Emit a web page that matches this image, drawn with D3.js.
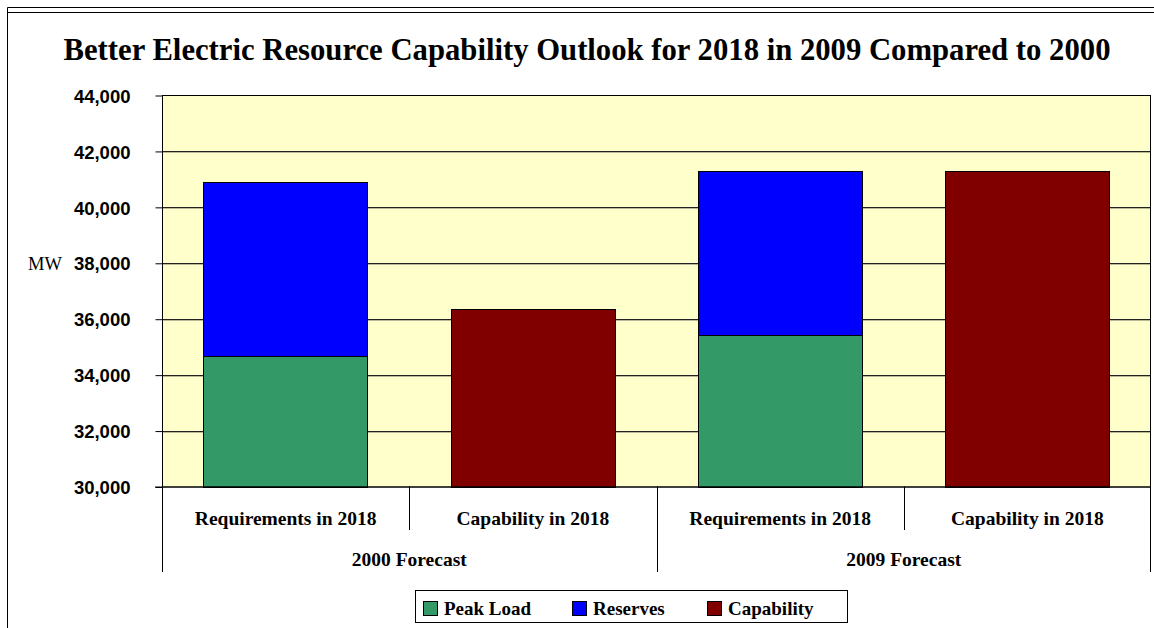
<!DOCTYPE html>
<html>
<head>
<meta charset="utf-8">
<script src="https://cdn.jsdelivr.net/npm/d3@7"></script>
<style>
  body { margin: 0; background: #fff; }
  svg { display: block; }
</style>
</head>
<body>
<div id="chart"></div>
<script>
// data
const categorias = ['Requirements in 2018', 'Capability in 2018', 'Requirements in 2018', 'Capability in 2018'];
const grupos = ['2000 Forecast', '2009 Forecast'];
const grupoDeCategoria = [0, 0, 1, 1];
const series = ['Peak Load', 'Reserves', 'Capability'];
const peakLoad = [34660, 0, 35430, 0];
const reserves = [6240, 0, 5870, 0];
const capability = [0, 36360, 0, 41300];
const ticksY = [30000, 32000, 34000, 36000, 38000, 40000, 42000, 44000];
const colores = ['#339966', '#0000ff', '#800000'];

const w = 1154, h = 628;
const margin = { left: 162, right: 3, top: 95, bottom: 141.5 };
const serif = '"Palatino Linotype", "Book Antiqua", Palatino, "Liberation Serif", serif';

const svg = d3.select('#chart').append('svg')
    .attr('width', w)
    .attr('height', h);

// marco exterior
svg.append('line').attr('x1', 7.5).attr('x2', w).attr('y1', 7.5).attr('y2', 7.5).attr('stroke', '#000');
svg.append('line').attr('x1', 7.5).attr('x2', w).attr('y1', 12.5).attr('y2', 12.5).attr('stroke', '#000');
svg.append('line').attr('x1', 7.5).attr('x2', 7.5).attr('y1', 7.5).attr('y2', h).attr('stroke', '#000');

// titulo
svg.append('text')
    .attr('x', 587)
    .attr('y', 60)
    .attr('text-anchor', 'middle')
    .style('font-family', serif)
    .style('font-weight', 'bold')
    .style('font-size', '30.7px')
    .text('Better Electric Resource Capability Outlook for 2018 in 2009 Compared to 2000');

// escalas
const x0 = margin.left, x1 = w - margin.right;
const yTop = margin.top, yBot = h - margin.bottom;

const xScale = d3.scaleBand()
    .domain(d3.range(categorias.length))
    .range([x0, x1])
    .paddingInner(0.335)
    .paddingOuter(0.1675);

const yScale = d3.scaleLinear()
    .domain([30000, 44000])
    .range([yBot, yTop])
    .clamp(true);

// fondo del area
svg.append('rect')
    .attr('x', x0).attr('y', yTop)
    .attr('width', x1 - x0).attr('height', yBot - yTop)
    .attr('fill', '#ffffcc');

// lineas de division
svg.append('g')
    .selectAll('line')
    .data(ticksY.slice(1, -1))
    .enter().append('line')
    .attr('x1', x0).attr('x2', x1)
    .attr('y1', (d) => Math.round(yScale(d)) + 1.5)
    .attr('y2', (d) => Math.round(yScale(d)) + 1.5)
    .attr('stroke', '#b8b89a');
svg.append('g')
    .selectAll('line')
    .data(ticksY.slice(1))
    .enter().append('line')
    .attr('x1', x0).attr('x2', x1)
    .attr('y1', (d) => Math.round(yScale(d)) + 0.5)
    .attr('y2', (d) => Math.round(yScale(d)) + 0.5)
    .attr('stroke', '#222');

// barras apiladas
const filas = categorias.map((c, i) => ({ i: i, valores: [peakLoad[i], reserves[i], capability[i]] }));
const stack = d3.stack().keys([0, 1, 2]).value((d, k) => d.valores[k]);
const apilado = stack(filas);

svg.append('g')
    .selectAll('g')
    .data(apilado)
    .enter().append('g')
    .attr('fill', (d) => colores[d.key])
    .selectAll('rect')
    .data((d) => d.filter((p) => p[1] > p[0]))
    .enter().append('rect')
    .attr('x', (d) => Math.round(xScale(d.data.i)) + 0.5)
    .attr('width', Math.round(xScale.bandwidth()))
    .attr('y', (d) => Math.round(yScale(d[1])) + 0.5)
    .attr('height', (d) => Math.round(yScale(d[0])) - Math.round(yScale(d[1])))
    .attr('stroke', '#000')
    .attr('stroke-width', 1);

// borde del area
svg.append('rect')
    .attr('x', x0 + 0.5).attr('y', yTop + 0.5)
    .attr('width', x1 - x0 - 1).attr('height', yBot - yTop)
    .attr('fill', 'none')
    .attr('stroke', '#000');

// eje Y
const yAxis = d3.axisLeft(yScale)
    .tickValues(ticksY)
    .tickSize(7)
    .tickPadding(25)
    .tickFormat(d3.format(','));

const gy = svg.append('g')
    .attr('transform', 'translate(' + (x0 + 0.5) + ',0.5)')
    .call(yAxis);
gy.select('.domain').remove();
gy.selectAll('line').attr('stroke', '#000');
gy.selectAll('text')
    .attr('fill', '#000')
    .attr('dy', '0.36em')
    .style('font-family', '"Liberation Sans", Arial, sans-serif')
    .style('font-weight', 'bold')
    .style('font-size', '18.5px');

svg.append('text')
    .attr('x', 28)
    .attr('y', 270)
    .style('font-family', '"Liberation Serif", "Times New Roman", serif')
    .style('font-size', '18.5px')
    .text('MW');

// eje X de dos niveles
const eje = svg.append('g');
eje.append('line').attr('x1', 155).attr('x2', x1).attr('y1', yBot + 0.5).attr('y2', yBot + 0.5).attr('stroke', '#000');

const bordes = d3.range(categorias.length + 1).map((i) => x0 + i * xScale.step());
eje.selectAll('line.sep')
    .data(bordes)
    .enter().append('line')
    .attr('x1', (d) => Math.round(d) + 0.5 - (d >= x1 - 1 ? 1 : 0))
    .attr('x2', (d) => Math.round(d) + 0.5 - (d >= x1 - 1 ? 1 : 0))
    .attr('y1', yBot)
    .attr('y2', (d, i) => (i % 2 === 0 ? 572 : 530))
    .attr('stroke', '#000');

eje.selectAll('text.cat')
    .data(categorias)
    .enter().append('text')
    .attr('x', (d, i) => x0 + (i + 0.5) * xScale.step())
    .attr('y', 525)
    .attr('text-anchor', 'middle')
    .style('font-family', serif)
    .style('font-weight', 'bold')
    .style('font-size', '19.5px')
    .text((d) => d);

eje.selectAll('text.grupo')
    .data(grupos)
    .enter().append('text')
    .attr('x', (d, g) => {
        const idx = d3.range(categorias.length).filter((i) => grupoDeCategoria[i] === g);
        return x0 + (d3.mean(idx) + 0.5) * xScale.step();
    })
    .attr('y', 566)
    .attr('text-anchor', 'middle')
    .style('font-family', serif)
    .style('font-weight', 'bold')
    .style('font-size', '19.5px')
    .text((d) => d);

// leyenda
const ley = svg.append('g');
ley.append('rect')
    .attr('x', 415.5).attr('y', 590.5)
    .attr('width', 432).attr('height', 32)
    .attr('fill', '#fff')
    .attr('stroke', '#000');

const posLeyenda = [423, 572, 707];
const items = ley.selectAll('g.item')
    .data(series)
    .enter().append('g')
    .attr('transform', (d, i) => 'translate(' + posLeyenda[i] + ',601)');
items.append('rect')
    .attr('x', 0.5).attr('y', 0.5)
    .attr('width', 14).attr('height', 14)
    .attr('fill', (d, i) => colores[i])
    .attr('stroke', '#000');
items.append('text')
    .attr('x', 21)
    .attr('y', 14)
    .style('font-family', serif)
    .style('font-weight', 'bold')
    .style('font-size', '19px')
    .text((d) => d);
</script>
</body>
</html>
